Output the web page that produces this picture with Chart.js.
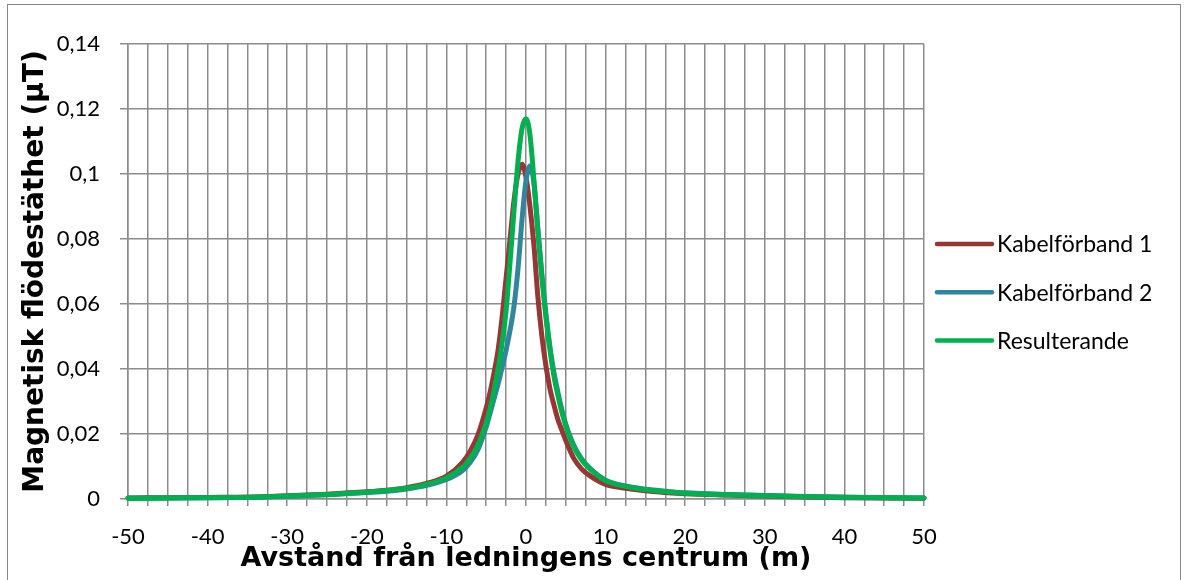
<!DOCTYPE html>
<html>
<head>
<meta charset="utf-8">
<script src="https://cdn.jsdelivr.net/npm/chart.js@4.4.1/dist/chart.umd.min.js"></script>
<style>
html,body{margin:0;padding:0;background:#fff;}
#wrap{position:relative;width:1184px;height:580px;}
</style>
</head>
<body>
<div id="wrap"><canvas id="chart" width="1184" height="580"></canvas></div>
<script>

/* DATA */

const distance = [-50,-45,-40,-35,-30,-25,-20,-17.5,-15,-12.5,-10,-8,-7,-6,-5,-4.5,-4,-3.5,-3,-2.5,-2,-1.5,-1,-0.5,0,0.5,1,1.5,2,2.5,3,3.5,4,4.5,5,6,7,8,10,12.5,15,17.5,20,25,30,35,40,45,50];

const kabel1 = [0.0003,0.0004,0.0005,0.0006,0.001,0.0015,0.0022,0.0027,0.0035,0.0048,0.007,0.0112,0.0148,0.02,0.028,0.033,0.039,0.046,0.056,0.068,0.08,0.092,0.1,0.103,0.099,0.09,0.078,0.062,0.05,0.041,0.034,0.029,0.0245,0.0212,0.018,0.0125,0.0092,0.0072,0.0045,0.0033,0.0025,0.002,0.0016,0.0012,0.0009,0.0006,0.0004,0.0003,0.0002];

const kabel2 = [0.0002,0.0003,0.0004,0.0005,0.0008,0.0013,0.002,0.0024,0.0031,0.0042,0.006,0.0087,0.0113,0.0154,0.0222,0.0265,0.031,0.0355,0.0405,0.0458,0.052,0.0595,0.071,0.086,0.098,0.1025,0.097,0.083,0.069,0.057,0.047,0.039,0.033,0.0275,0.023,0.0165,0.0123,0.0095,0.0058,0.004,0.003,0.0024,0.0019,0.0014,0.0011,0.0008,0.0006,0.0004,0.0003];

const resulterande = [0.0002,0.0003,0.0004,0.0005,0.0009,0.0014,0.0021,0.0026,0.0033,0.0045,0.0065,0.0097,0.0125,0.0168,0.0235,0.028,0.0335,0.04,0.048,0.058,0.073,0.089,0.104,0.114,0.117,0.112,0.098,0.082,0.068,0.056,0.046,0.038,0.032,0.0268,0.0225,0.016,0.012,0.0093,0.0056,0.0039,0.0029,0.0023,0.0018,0.0013,0.001,0.0007,0.0005,0.0004,0.0003];

const seriesNames = ["Kabelförband 1","Kabelförband 2","Resulterande"];
const seriesColors = ["#953735","#31859C","#00B050"];

const xTitle = "Avstånd från ledningens centrum (m)";
const yTitle = "Magnetisk flödestäthet (µT)";

const FONT = "Lato, 'Liberation Sans', sans-serif";
const TITLE_FONT = "'DejaVu Sans', sans-serif";
const GRID = "#8c8c8c";

function points(values){
return distance.map((d,i)=>({x:d,y:values[i]}));
}

/* BACKGROUND + FRAME */

const framePlugin={
id:"frame",
beforeDraw(chart){
const c=chart.ctx;
c.save();
c.fillStyle="#fff";
c.fillRect(0,0,chart.width,chart.height);
c.strokeStyle="#868686";
c.lineWidth=1;
c.strokeRect(7.5,4.5,1173,600);
c.restore();
}
};

/* LEGEND ON THE RIGHT */

const sideLegend={
id:"sideLegend",
afterDraw(chart){
const c=chart.ctx;
const x0=chart.chartArea.right+13;
c.save();
c.font="23px "+FONT;
c.textBaseline="middle";
c.textAlign="left";
seriesNames.forEach((name,i)=>{
const y=244+i*48.3;
c.strokeStyle=seriesColors[i];
c.lineWidth=4.5;
c.lineCap="round";
c.beginPath();
c.moveTo(x0,y);
c.lineTo(x0+55,y);
c.stroke();
c.fillStyle="#000";
c.fillText(name,x0+60,y+1);
});
c.restore();
}
};

const ctx=document.getElementById("chart");

new Chart(ctx,{
type:"line",
data:{
datasets:[
{label:seriesNames[0],data:points(kabel1),borderColor:seriesColors[0],order:3},
{label:seriesNames[1],data:points(kabel2),borderColor:seriesColors[1],order:2},
{label:seriesNames[2],data:points(resulterande),borderColor:seriesColors[2],order:1}
]
},
options:{
responsive:false,
animation:false,
clip:8,
elements:{
line:{borderWidth:5,cubicInterpolationMode:"monotone",fill:false,borderCapStyle:"round",borderJoinStyle:"round"},
point:{radius:0}
},
layout:{padding:{top:44,right:260,left:0,bottom:0}},
plugins:{legend:{display:false},tooltip:{enabled:false}},
scales:{
x:{
type:"linear",
min:-50,max:50,
afterFit(s){s.height=81;},
grid:{color:GRID,lineWidth:1.5,tickLength:7,tickColor:GRID},
border:{color:GRID,width:1.5},
ticks:{
stepSize:2.5,autoSkip:false,maxRotation:0,padding:18,
color:"#000",font:{family:FONT,size:22},
callback:v=>(Math.abs(v%10)<1e-9)?String(v):""
},
title:{display:true,text:xTitle,color:"#000",font:{family:TITLE_FONT,size:27,weight:"bold"},padding:{top:0,bottom:5}}
},
y:{
min:0,max:0.14,
afterFit(s){s.width=128;},
grid:{color:GRID,lineWidth:1.5,tickLength:8,tickColor:GRID},
border:{color:GRID,width:1.5},
ticks:{
stepSize:0.02,padding:20,
color:"#000",font:{family:FONT,size:22},
callback:v=>String(Number(v.toFixed(2))).replace(".",",")
},
title:{display:true,text:yTitle,color:"#000",font:{family:TITLE_FONT,size:28,weight:"bold"},padding:{top:19,bottom:0}}
}
}
},
plugins:[framePlugin,sideLegend]
});

</script>
</body>
</html>
